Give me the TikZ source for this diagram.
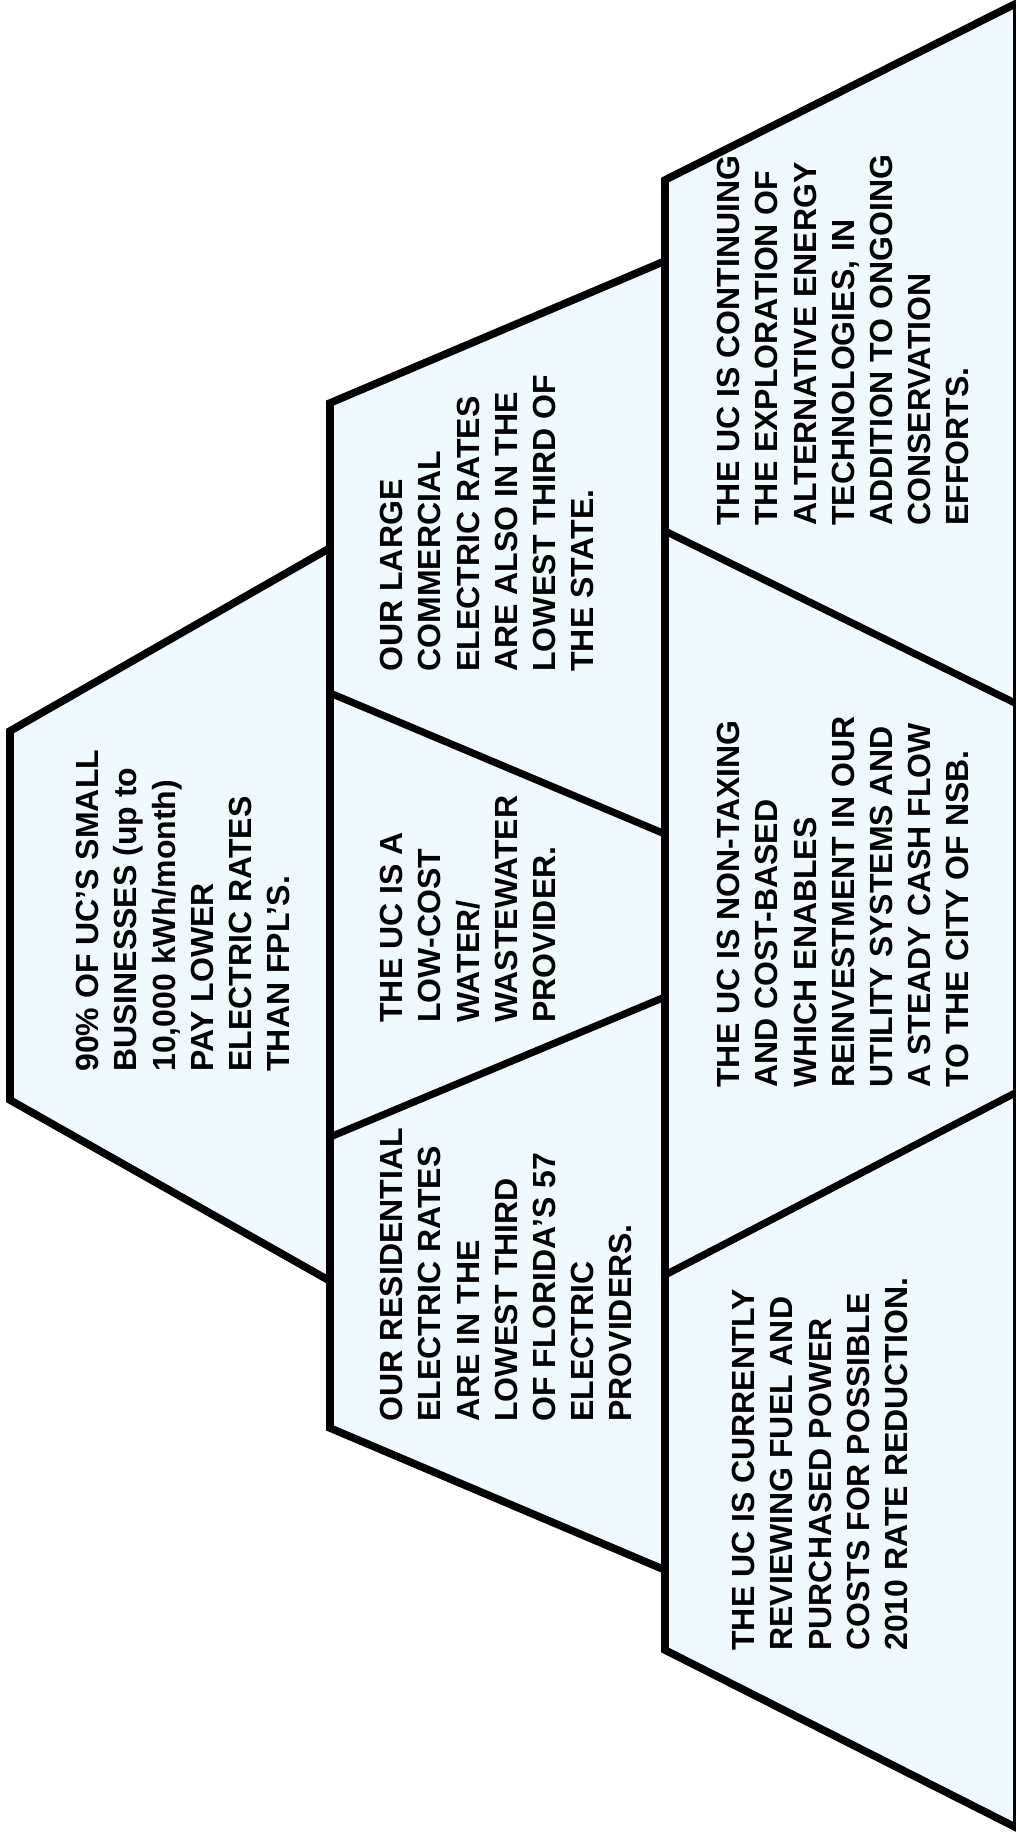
\documentclass[tikz,border=0pt]{standalone}
\usepackage{fontspec}
\setmainfont{Liberation Sans}
\usepackage{tikz}
\definecolor{tierfill}{RGB}{239,249,254}

\begin{document}
\begin{tikzpicture}[x=0.5pt, y=-0.5pt,
    tier/.style={fill=tierfill, draw=black, line width=3.8pt, line join=miter},
    divider/.style={draw=black, line width=3.6pt},
    note/.style={rotate=90, anchor=north west, align=left, inner sep=0pt,
      font=\bfseries\fontsize{16}{19.1}\selectfont}]
  \useasboundingbox (0,0) rectangle (1016,1841);
  \fill[white] (0,0) rectangle (1016,1841);

  % Tiers
  \coordinate (topA) at (10,731);   \coordinate (topB) at (330,548);
  \coordinate (topC) at (330,1281); \coordinate (topD) at (10,1100);
  \coordinate (midA) at (330,403);  \coordinate (midB) at (665,261);
  \coordinate (midC) at (665,1570); \coordinate (midD) at (330,1428);
  \coordinate (lowA) at (665,180);  \coordinate (lowB) at (1017,3);
  \coordinate (lowC) at (1017,1828); \coordinate (lowD) at (665,1650);
  \draw[tier] (topA) -- (topB) -- (topC) -- (topD) -- cycle;
  \draw[tier] (midA) -- (midB) -- (midC) -- (midD) -- cycle;
  \draw[tier] (lowA) -- (lowB) -- (lowC) -- (lowD) -- cycle;

  % Dividers
  \coordinate (midUpL) at (330,693);  \coordinate (midUpR) at (665,834);
  \coordinate (midDnL) at (330,1137); \coordinate (midDnR) at (665,997);
  \coordinate (lowUpL) at (665,531);  \coordinate (lowUpR) at (1017,704);
  \coordinate (lowDnL) at (665,1275); \coordinate (lowDnR) at (1017,1092);
  \draw[divider] (midUpL) -- (midUpR);
  \draw[divider] (midDnL) -- (midDnR);
  \draw[divider] (lowUpL) -- (lowUpR);
  \draw[divider] (lowDnL) -- (lowDnR);

  % Texts
  \node[note] (small) at (76,1072) {90\% OF UC’S SMALL\\BUSINESSES (up to\\10,000 kWh/month)\\PAY LOWER\\ELECTRIC RATES\\THAN FPL’S.};
  \node[note] (commercial) at (380,672) {OUR LARGE\\COMMERCIAL\\ELECTRIC RATES\\ARE ALSO IN THE\\LOWEST THIRD OF\\THE STATE.};
  \node[note] (water) at (380,1023) {THE UC IS A\\LOW-COST\\WATER/\\WASTEWATER\\PROVIDER.};
  \node[note] (residential) at (380,1422) {OUR RESIDENTIAL\\ELECTRIC RATES\\ARE IN THE\\LOWEST THIRD\\OF FLORIDA’S 57\\ELECTRIC\\PROVIDERS.};
  \node[note] (energy) at (717,526) {THE UC IS CONTINUING\\THE EXPLORATION OF\\ALTERNATIVE ENERGY\\TECHNOLOGIES, IN\\ADDITION TO ONGOING\\CONSERVATION\\EFFORTS.};
  \node[note] (nontaxing) at (717,1088) {THE UC IS NON-TAXING\\AND COST-BASED\\WHICH ENABLES\\REINVESTMENT IN OUR\\UTILITY SYSTEMS AND\\A STEADY CASH FLOW\\TO THE CITY OF NSB.};
  \node[note] (fuel) at (732,1651) {THE UC IS CURRENTLY\\REVIEWING FUEL AND\\PURCHASED POWER\\COSTS FOR POSSIBLE\\2010 RATE REDUCTION.};
\end{tikzpicture}
\end{document}
